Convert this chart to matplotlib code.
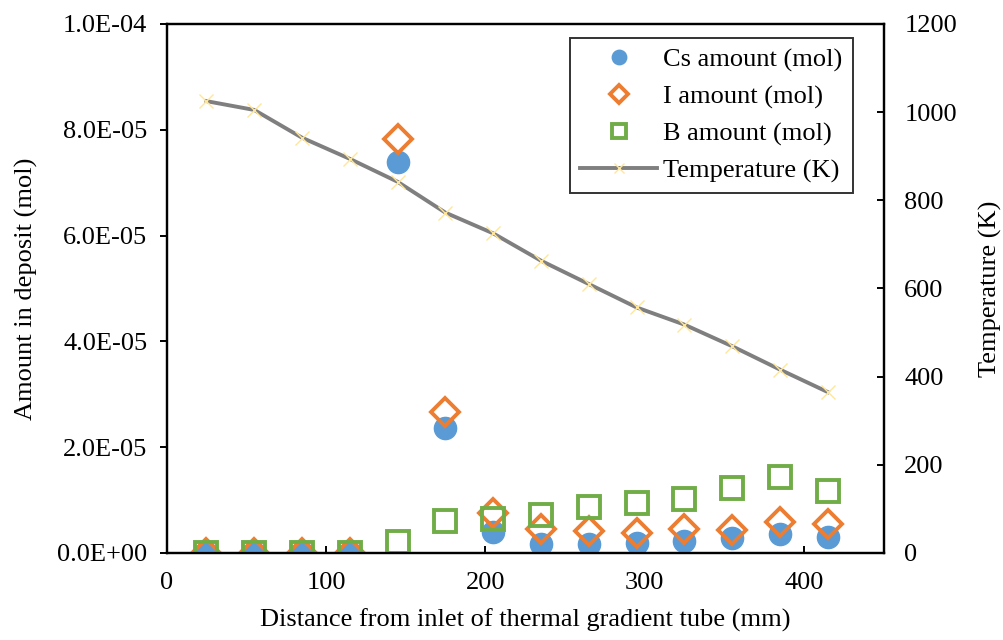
import matplotlib
matplotlib.use("Agg")
import matplotlib.pyplot as plt
from matplotlib.ticker import FuncFormatter

plt.rcParams["font.family"] = ["Liberation Serif", "DejaVu Serif"]

# distance from inlet (mm)
distance = [25, 55, 85, 115, 145, 175, 205, 235, 265, 295, 325, 355, 385, 415]
cs_mol = [0, 0, 0, 0, 7.40e-5, 2.36e-5, 0.39e-5, 0.16e-5, 0.16e-5, 0.19e-5,
          0.23e-5, 0.28e-5, 0.36e-5, 0.31e-5]
i_mol = [0, 0, 0, 0, 7.83e-5, 2.66e-5, 0.76e-5, 0.45e-5, 0.41e-5, 0.38e-5,
         0.46e-5, 0.44e-5, 0.59e-5, 0.55e-5]
b_mol = [0, 0, 0, 0, 0.20e-5, 0.61e-5, 0.65e-5, 0.71e-5, 0.87e-5, 0.95e-5,
         1.02e-5, 1.22e-5, 1.44e-5, 1.17e-5]
temp_k = [1025, 1005, 942, 894, 842, 772, 725, 663, 610, 557, 518, 469, 416, 365]

FS = 19

fig = plt.figure(figsize=(10.04, 6.4), dpi=100)
ax = fig.add_axes([0.166, 0.136, 0.714, 0.8265])
ax2 = ax.twinx()

h_cs, = ax.plot(distance, cs_mol, "o", ms=16, color="#5B9BD5", mec="#5B9BD5",
                label="Cs amount (mol)", zorder=3)
h_i, = ax.plot(distance, i_mol, "D", ms=14.5, mfc="none", mec="#ED7D31", mew=2.8,
               label="I amount (mol)", zorder=4)
h_b, = ax.plot(distance, b_mol, "s", ms=15.5, mfc="none", mec="#70AD47", mew=2.8,
               label="B amount (mol)", zorder=5)
h_t, = ax2.plot(distance, temp_k, "-", color="#7F7F7F", lw=2.8, marker="x",
                ms=10, mec="#FFE699", mew=1, label="Temperature (K)")

ax.set_xlim(0, 450)
ax.set_ylim(0, 1e-4)
ax2.set_ylim(0, 1200)
ax.set_xticks([0, 100, 200, 300, 400])
ax.set_yticks([0, 2e-5, 4e-5, 6e-5, 8e-5, 1e-4])
ax2.set_yticks(range(0, 1201, 200))


def sci(v, pos):
    s = "%.1E" % v
    mant, ex = s.split("E")
    return "%sE%s%02d" % (mant, ex[0], abs(int(ex)))


ax.yaxis.set_major_formatter(FuncFormatter(sci))

for a in (ax, ax2):
    for sp in a.spines.values():
        sp.set_linewidth(1.6)
ax.tick_params(axis="x", direction="in", length=5, width=1.4, labelsize=FS, pad=14)
ax.tick_params(axis="y", direction="out", length=5, width=1.4, labelsize=FS, pad=9)
ax2.tick_params(axis="y", direction="in", length=5, width=1.4, labelsize=FS, pad=15)

ax.set_xlabel("Distance from inlet of thermal gradient tube (mm)", fontsize=FS, labelpad=10)
ax.set_ylabel("Amount in deposit (mol)", fontsize=FS, labelpad=14)
ax2.set_ylabel("Temperature (K)", fontsize=FS, labelpad=16)

leg = ax2.legend([h_cs, h_i, h_b, h_t],
                 [h.get_label() for h in (h_cs, h_i, h_b, h_t)],
                 loc="upper right", bbox_to_anchor=(0.957, 0.974), fontsize=FS,
                 frameon=True, fancybox=False, edgecolor="black",
                 handlelength=2.9, handletextpad=0.25, borderpad=0.38,
                 labelspacing=0.5, markerscale=0.65, borderaxespad=0)
leg.get_frame().set_linewidth(1.4)

fig.savefig("out.png", dpi=100)
